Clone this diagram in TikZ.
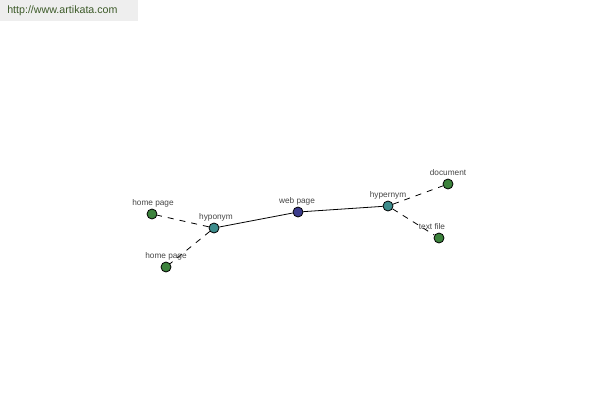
\documentclass[tikz,border=0pt]{standalone}
\usepackage{fontspec}
\setmainfont{Liberation Sans}
\begin{document}
\begin{tikzpicture}[x=0.75pt,y=-0.75pt,
  dot/.style={circle,draw=black,line width=0.6pt,minimum size=7.5pt,inner sep=0pt},
  root/.style={dot,fill=rootc},
  mid/.style={dot,fill=midc},
  leaf/.style={dot,fill=leafc},
  lbl/.style={font=\fontsize{6.2}{7}\selectfont,text=lblc,inner sep=0pt},
  solidedge/.style={draw=black,line width=0.6pt},
  dashedge/.style={draw=black,line width=0.6pt,dash pattern=on 4.5pt off 4.5pt}]
\definecolor{rootc}{RGB}{60,60,140}
\definecolor{midc}{RGB}{60,140,140}
\definecolor{leafc}{RGB}{60,130,60}
\definecolor{lblc}{RGB}{70,70,70}
\definecolor{hdrbg}{RGB}{238,238,238}
\definecolor{hdrtx}{RGB}{60,90,40}
\useasboundingbox (0,0) rectangle (600,400);
\fill[white] (0,0) rectangle (600,400);
\fill[hdrbg] (0,0) rectangle (138,21);
\node[anchor=west,font=\fontsize{8}{9}\selectfont,text=hdrtx,inner sep=0pt] (hdr) at (7,11) {http://www.artikata.com};
\node[root] (web) at (298,212) {};
\node[mid] (hypo) at (214,228) {};
\node[mid] (hyper) at (388,206) {};
\node[leaf] (hp1) at (152,214) {};
\node[leaf] (hp2) at (166,267) {};
\node[leaf] (doc) at (448,184) {};
\node[leaf] (tf) at (439,238) {};
\draw[solidedge] (hypo) -- (web);
\draw[solidedge] (web) -- (hyper);
\draw[dashedge] (hypo) -- (hp1);
\draw[dashedge] (hypo) -- (hp2);
\draw[dashedge] (hyper) -- (doc);
\draw[dashedge] (hyper) -- (tf);
\node[lbl] (lweb) at (297,201) {web page};
\node[lbl] (lhypo) at (216,217) {hyponym};
\node[lbl] (lhyper) at (388,195) {hypernym};
\node[lbl] (lhp1) at (153,203) {home page};
\node[lbl] (lhp2) at (166,256) {home page};
\node[lbl] (ldoc) at (448,173) {document};
\node[lbl] (ltf) at (432,227) {text file};
\end{tikzpicture}
\end{document}
